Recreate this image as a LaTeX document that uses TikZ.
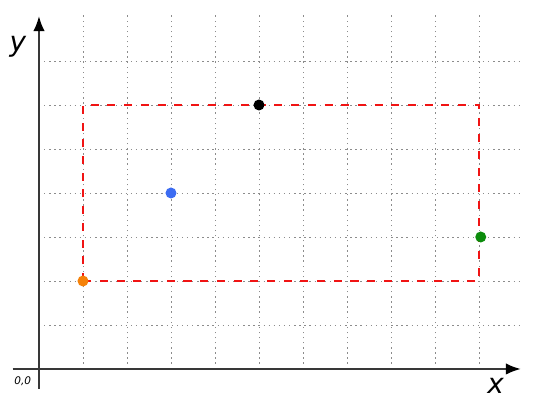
\documentclass[tikz,border=0pt]{standalone}
\usepackage{fontspec}
\setmainfont{DejaVu Sans}
\usetikzlibrary{arrows.meta}
\definecolor{cLuoi}{HTML}{8C8C8C}
\definecolor{cTruc}{HTML}{383838}
\definecolor{cDo}{HTML}{F01414}
\definecolor{cCam}{HTML}{F5820A}
\definecolor{cXanhDuong}{HTML}{3C6CF2}
\definecolor{cXanhLa}{HTML}{0C8C0C}
\begin{document}
\begin{tikzpicture}[
  luoi/.style={cLuoi, line width=0.6pt, dash pattern=on 0.9pt off 2.4pt},
  truc/.style={cTruc, line width=1.2pt, -{Latex[length=3.4mm,width=2.6mm,color=black]}},
  khung/.style={cDo, line width=1.5pt, dash pattern=on 5.2pt off 5.6pt},
  diem/.style={circle, inner sep=0pt, minimum size=2.5mm, fill=#1},
  nhan/.style={font=\fontsize{18}{20}\selectfont\itshape}
]

% ── Khung anh: goc (0;0) nam o pixel (39;369), 1 o = 44 px ──
\useasboundingbox (-0.886,-0.795) rectangle (11.591,8.386);

% ── Luoi cham ──
\foreach \i in {1,...,10}
  \draw[luoi] (\i,0) -- (\i,8.05);
\foreach \j in {1,...,7}
  \draw[luoi] (0,\j) -- (11,\j);

% ── Hai truc ──
\coordinate (goc) at (0,0);
\draw[truc] (-0.6,0) -- (10.95,0);
\draw[truc] (0,-0.45) -- (0,8.02);
\node[nhan] (nhanx) at (10.38,-0.38) {x};
\node[nhan] (nhany) at (-0.48,7.32) {y};
\node[font=\fontsize{6.8}{8}\selectfont\itshape] (nhangoc) at (-0.37,-0.27) {0,0};

% ── Hinh chu nhat do net dut ──
\coordinate (duoitrai) at (1,2);
\coordinate (trenphai) at (10,6);
\draw[khung] (duoitrai) rectangle (trenphai);

% ── Bon diem mau ──
\node[diem=cCam] (cam) at (duoitrai) {};
\node[diem=cXanhDuong] (xanhduong) at (3,4) {};
\node[diem=black] (den) at (5,6) {};
\node[diem=cXanhLa] (xanhla) at (10.04,3) {};

\end{tikzpicture}
\end{document}
